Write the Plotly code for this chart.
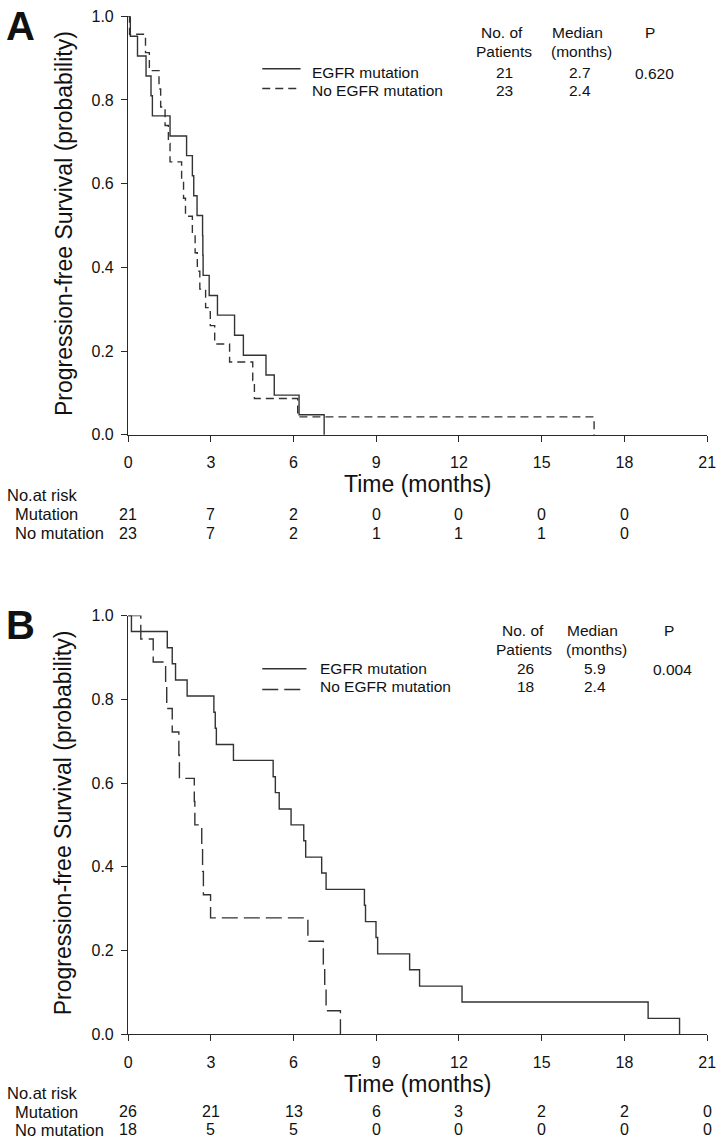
import plotly.graph_objects as go

W, H = 723, 1146

# ---------------- data ----------------
ticks_x = [0, 3, 6, 9, 12, 15, 18, 21]
ticks_y = [0.0, 0.2, 0.4, 0.6, 0.8, 1.0]

# Panel A (Kaplan-Meier steps: event time, survival after event)
a_mut_t = [0.08, 0.34, 0.65, 0.83, 0.88, 1.52, 2.12, 2.33, 2.38, 2.50, 2.70, 2.71, 2.72,
           2.94, 3.24, 3.86, 4.18, 5.00, 5.30, 6.20, 7.11]
a_mut_s = [0.952, 0.905, 0.857, 0.810, 0.762, 0.714, 0.667, 0.619, 0.571, 0.524, 0.476,
           0.429, 0.381, 0.333, 0.286, 0.238, 0.190, 0.143, 0.095, 0.048, 0.0]
a_nomut_t = [0.05, 0.63, 0.77, 1.12, 1.18, 1.34, 1.46, 1.52, 1.94, 2.01, 2.08, 2.33, 2.43,
             2.51, 2.60, 2.81, 2.98, 3.14, 3.68, 4.52, 4.58, 6.15, 16.9]
a_nomut_s = [0.957, 0.913, 0.870, 0.826, 0.783, 0.739, 0.696, 0.652, 0.609, 0.565, 0.522,
             0.478, 0.435, 0.391, 0.348, 0.304, 0.261, 0.217, 0.174, 0.130, 0.087, 0.043, 0.0]

# Panel B
b_mut_t = [0.12, 1.42, 1.60, 1.72, 2.14, 3.11, 3.16, 3.20, 3.82, 5.26, 5.34, 5.48, 5.91,
           6.37, 6.44, 7.02, 7.18, 8.57, 8.61, 8.99, 9.05, 10.21, 10.57, 12.11, 18.86, 20.0]
b_mut_s = [0.962, 0.923, 0.885, 0.846, 0.808, 0.769, 0.731, 0.692, 0.654, 0.615, 0.577,
           0.538, 0.500, 0.462, 0.423, 0.385, 0.346, 0.308, 0.269, 0.231, 0.192, 0.154,
           0.115, 0.077, 0.038, 0.0]
b_nomut_t = [0.46, 0.91, 1.36, 1.40, 1.60, 1.84, 1.86, 2.40, 2.42, 2.67, 2.70, 2.73, 2.99,
             6.52, 7.08, 7.13, 7.18, 7.70]
b_nomut_s = [0.944, 0.889, 0.833, 0.778, 0.722, 0.667, 0.611, 0.556, 0.500, 0.444, 0.389,
             0.333, 0.278, 0.222, 0.167, 0.111, 0.056, 0.0]

# Tables
legend_labels = ["EGFR mutation", "No EGFR mutation"]
a_patients = ["21", "23"]
a_median = ["2.7", "2.4"]
a_p = "0.620"
b_patients = ["26", "18"]
b_median = ["5.9", "2.4"]
b_p = "0.004"

risk_times_a = [0, 3, 6, 9, 12, 15, 18]
a_risk_mut = [21, 7, 2, 0, 0, 0, 0]
a_risk_nomut = [23, 7, 2, 1, 1, 1, 0]
risk_times_b = [0, 3, 6, 9, 12, 15, 18, 21]
b_risk_mut = [26, 21, 13, 6, 3, 2, 2, 0]
b_risk_nomut = [18, 5, 5, 0, 0, 0, 0, 0]

# ---------------- helpers ----------------
def px(x):
    return x / W

def py(y):
    return 1 - y / H

FONT = "Arial, Liberation Sans, sans-serif"
LC = "#333333"
AX = "#2a2a2a"

fig = go.Figure()

def km(t, s, xa, ya, dash):
    fig.add_trace(go.Scatter(
        x=[0] + list(t), y=[1.0] + list(s), mode="lines",
        line=dict(shape="hv", color=LC, width=1.4, dash=dash),
        xaxis=xa, yaxis=ya, cliponaxis=False, hoverinfo="skip", showlegend=False))

km(a_mut_t, a_mut_s, "x", "y", "solid")
km(a_nomut_t, a_nomut_s, "x", "y", "8px,5px")
km(b_mut_t, b_mut_s, "x2", "y2", "solid")
km(b_nomut_t, b_nomut_s, "x2", "y2", "16px,6px")

xdom = [px(126.4), px(716)]
a_top, a_bot = 8.3, 433.3
b_top, b_bot = 616.7, 1041.7

axis_common = dict(showline=True, linecolor=AX, linewidth=1.3, ticks="outside",
                   ticklen=6, tickwidth=1.2, tickcolor=AX, showgrid=False, zeroline=False,
                   ticklabeloverflow="allow",
                   tickfont=dict(family=FONT, size=16, color="#111"))

fig.update_layout(
    width=W, height=H, margin=dict(l=0, r=0, t=0, b=0),
    paper_bgcolor="white", plot_bgcolor="white", showlegend=False,
    xaxis=dict(domain=xdom, range=[0, 21], tickvals=ticks_x, anchor="y",
               ticklabelstandoff=7, **axis_common),
    yaxis=dict(domain=[py(a_bot), py(a_top)], range=[0, 1], tickvals=ticks_y,
               tickformat=".1f", anchor="x", ticklabelstandoff=4, **axis_common),
    xaxis2=dict(domain=xdom, range=[0, 21], tickvals=ticks_x, anchor="y2",
                ticklabelstandoff=7, **axis_common),
    yaxis2=dict(domain=[py(b_bot), py(b_top)], range=[0, 1], tickvals=ticks_y,
                tickformat=".1f", anchor="x2", ticklabelstandoff=4, **axis_common),
)

ann = []
shapes = []

def text(x, y, s, size=15.5, xanchor="center", xref="paper", angle=0, bold=False):
    ann.append(dict(x=x, y=py(y), xref=xref, yref="paper", text=("<b>%s</b>" % s) if bold else s,
                    showarrow=False, xanchor=xanchor, yanchor="middle", textangle=angle,
                    font=dict(family=FONT, size=size, color="#111")))

def panel(off, letter, xref, pat, med, pval, cols, leg_text_x, leg_solid_end, leg_dash,
          rows_y, head_y, sample_y, risk_t, risk_m, risk_n, base, risk_rows):
    text(px(17), off + 10, letter, size=40, bold=True)
    text(10.5, base + 50, "Time (months)", size=23, xref=xref)
    text(px(60.5), (off + base) / 2 - 2, "Progression-free Survival (probability)", size=23, angle=-90)
    shapes.append(dict(type="line", xref="paper", yref="paper", x0=px(263), x1=px(leg_solid_end),
                       y0=py(sample_y[0]), y1=py(sample_y[0]), line=dict(color=LC, width=1.4)))
    shapes.append(dict(type="line", xref="paper", yref="paper", x0=px(263), x1=px(302),
                       y0=py(sample_y[1]), y1=py(sample_y[1]), line=dict(color=LC, width=1.4, dash=leg_dash)))
    for i, lab in enumerate(legend_labels):
        text(px(leg_text_x), rows_y[i], lab, xanchor="left")
    c1, c2, c3 = cols
    text(px(c1), head_y[0], "No. of")
    text(px(c1 + 2), head_y[1], "Patients")
    text(px(c2), head_y[0], "Median")
    text(px(c2 + 4), head_y[1], "(months)")
    text(px(c3), head_y[0], "P")
    for i in range(2):
        text(px(c1 + 3), rows_y[i], pat[i])
        text(px(c2 + 3), rows_y[i], med[i])
    text(px(c3 + 4), rows_y[0] + 1.5, pval)
    r0, r1, r2 = risk_rows
    text(px(1), r0, "No.at risk", size=16.5, xanchor="left")
    text(px(9), r1, "Mutation", size=16.5, xanchor="left")
    text(px(9), r2, "No mutation", size=16.5, xanchor="left")
    for t, v in zip(risk_t, risk_m):
        text(t, r1, str(v), size=16, xref=xref)
    for t, v in zip(risk_t, risk_n):
        text(t, r2, str(v), size=16, xref=xref)

panel(a_top, "A", "x", a_patients, a_median, a_p, (507, 584, 658), 311.7, 302, "8px,5px",
      (65, 83.3), (25, 44.3), (61.7, 81.7), risk_times_a, a_risk_mut, a_risk_nomut, a_bot,
      (a_bot + 61, a_bot + 80.5, a_bot + 100))
panel(b_top, "B", "x2", b_patients, b_median, b_p, (528, 599, 677), 320, 308, "16px,6px",
      (670, 688.3), (631.7, 650.7), (670.7, 691.7), risk_times_b, b_risk_mut, b_risk_nomut, b_bot,
      (b_bot + 60, b_bot + 78.5, b_bot + 97))

fig.update_layout(annotations=ann, shapes=shapes)
fig.write_html(
    "out.html",
    config={"displayModeBar": False},
    post_script="document.body.style.margin='0';document.body.style.padding='0';"
                "document.documentElement.style.overflow='hidden';",
)
